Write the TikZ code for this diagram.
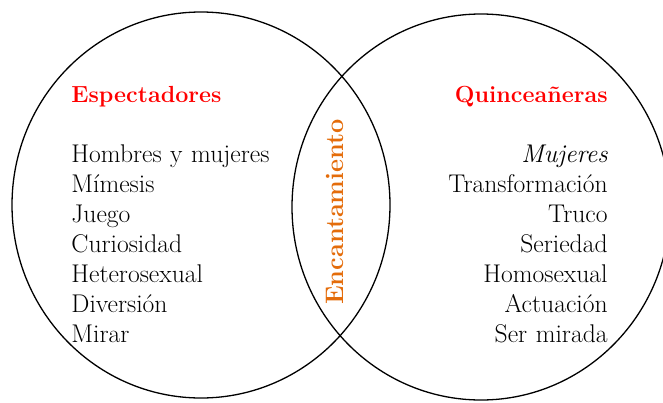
\documentclass[tikz,border=0pt]{standalone}
\usepackage{tikz}
\usetikzlibrary{positioning}
\definecolor{naranja}{HTML}{E46C0A}

\begin{document}
\begin{tikzpicture} [x=1pt, y=-1pt, node distance=30pt, thick,
                    izq/.style={text width=220pt,align=left,inner sep=0pt,text height=18pt,text depth=6pt,font=\fontsize{25.6}{30}\selectfont},
                    der/.style={izq,align=right},
                    titulo/.style={inner sep=0pt,text=red,font=\bfseries\fontsize{23.3}{28}\selectfont}]

\useasboundingbox (0,0) rectangle (663,402);

\draw[line width=1.3pt] (201,205) ellipse [x radius=189pt, y radius=193pt];
\draw[line width=1.3pt] (481,207) ellipse [x radius=189pt, y radius=193pt];

\node[titulo,anchor=base west] (TE) at (71,102) {Espectadores};
\node[titulo,anchor=base east] (TQ) at (608,102) {Quinceañeras};

\node[izq,anchor=base west] (E1) at (71,162) {Hombres y mujeres};
\node[izq] (E2) [below of=E1] {Mímesis};
\node[izq] (E3) [below of=E2] {Juego};
\node[izq] (E4) [below of=E3] {Curiosidad};
\node[izq] (E5) [below of=E4] {Heterosexual};
\node[izq] (E6) [below of=E5] {Diversión};
\node[izq] (E7) [below of=E6] {Mirar};

\node[der,anchor=base east] (Q1) at (608,162) {\itshape Mujeres};
\node[der] (Q2) [below of=Q1] {Transformación};
\node[der] (Q3) [below of=Q2] {Truco};
\node[der] (Q4) [below of=Q3] {Seriedad};
\node[der] (Q5) [below of=Q4] {Homosexual};
\node[der] (Q6) [below of=Q5] {Actuación};
\node[der] (Q7) [below of=Q6] {Ser mirada};

\node[rotate=90,inner sep=0pt,text=naranja,font=\bfseries\fontsize{25.3}{30}\selectfont] (ENC) at (335,212) {Encantamiento};
\end{tikzpicture}
\end{document}
